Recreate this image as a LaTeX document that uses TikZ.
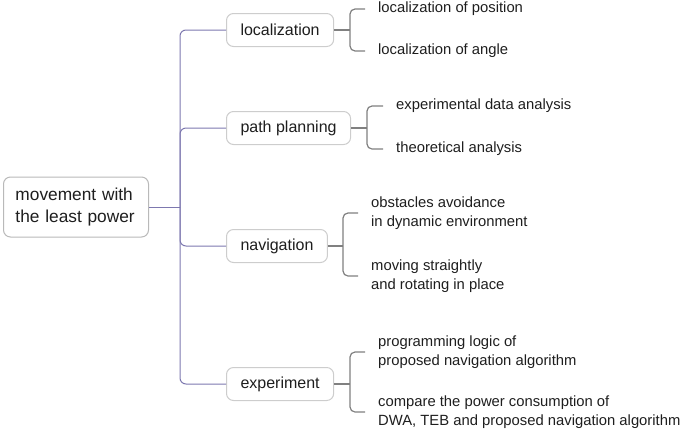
\documentclass[tikz,border=0pt]{standalone}
\usepackage{fontspec}
\setmainfont{Liberation Sans}
\definecolor{TrunkColor}{RGB}{125,120,175}
\definecolor{TwigColor}{RGB}{128,128,128}
\definecolor{BoxColor}{RGB}{205,205,205}
\definecolor{RootColor}{RGB}{185,185,185}
\definecolor{TextColor}{RGB}{30,30,30}
\tikzset{
  topic/.style={draw=BoxColor,line width=1pt,rounded corners=7pt,fill=white,text=TextColor,inner xsep=14pt,minimum height=33pt,anchor=west},
  leaf/.style={text=TextColor,align=left,anchor=west,inner xsep=13pt,inner ysep=0pt,font=\fontsize{14.8}{18.5}\selectfont},
  trunk/.style={draw=TrunkColor,line width=1pt,rounded corners=6pt},
  twig/.style={draw=TwigColor,line width=1.2pt,rounded corners=5pt},
}

\begin{document}
\begin{tikzpicture}[x=1pt,y=-1pt,font=\fontsize{16}{18.5}\selectfont]
		\useasboundingbox (0,0) rectangle (685,432);

		% root
		\node[topic,draw=RootColor,minimum width=145pt,minimum height=60pt,align=left,text width=121pt,inner xsep=12pt,font=\fontsize{17.3}{22}\selectfont] (root) at (3,207) {movement with\\the least power};

		% topics
		\node[topic] (loc)  at (226,30)  {localization};
		\node[topic] (path) at (226,128) {path planning};
		\node[topic] (nav)  at (226,246) {navigation};
		\node[topic] (exp)  at (226,384) {experiment};

		% trunk
		\coordinate (fork) at (180,207);
		\draw[trunk] (root.east) -- (fork);
		\foreach \t in {loc,path,nav,exp}
			\draw[trunk] (fork) |- (\t.west);

		% localization leaves
		\node[leaf] (locA) at (365,9)  {localization of position};
		\node[leaf] (locB) at (365,51) {localization of angle};
		\coordinate (locJ) at (350,30);
		\draw[twig] (loc.east) -- (locJ);
		\draw[twig] (locA.west) -| (locJ) |- (locB.west);

		% path planning leaves
		\node[leaf] (pathA) at (383,106) {experimental data analysis};
		\node[leaf] (pathB) at (383,149) {theoretical analysis};
		\coordinate (pathJ) at (367,128);
		\draw[twig] (path.east) -- (pathJ);
		\draw[twig] (pathA.west) -| (pathJ) |- (pathB.west);

		% navigation leaves
		\node[leaf] (navA) at (358,213) {obstacles avoidance\\in dynamic environment};
		\node[leaf] (navB) at (358,276) {moving straightly\\and rotating in place};
		\coordinate (navJ) at (343,246);
		\draw[twig] (nav.east) -- (navJ);
		\draw[twig] (navA.west) -| (navJ) |- (navB.west);

		% experiment leaves
		\node[leaf] (expA) at (365,352) {programming logic of\\proposed navigation algorithm};
		\node[leaf] (expB) at (365,412) {compare the power consumption of\\DWA, TEB and proposed navigation algorithm};
		\coordinate (expJ) at (350,384);
		\draw[twig] (exp.east) -- (expJ);
		\draw[twig] (expA.west) -| (expJ) |- (expB.west);

	\end{tikzpicture}
\end{document}
